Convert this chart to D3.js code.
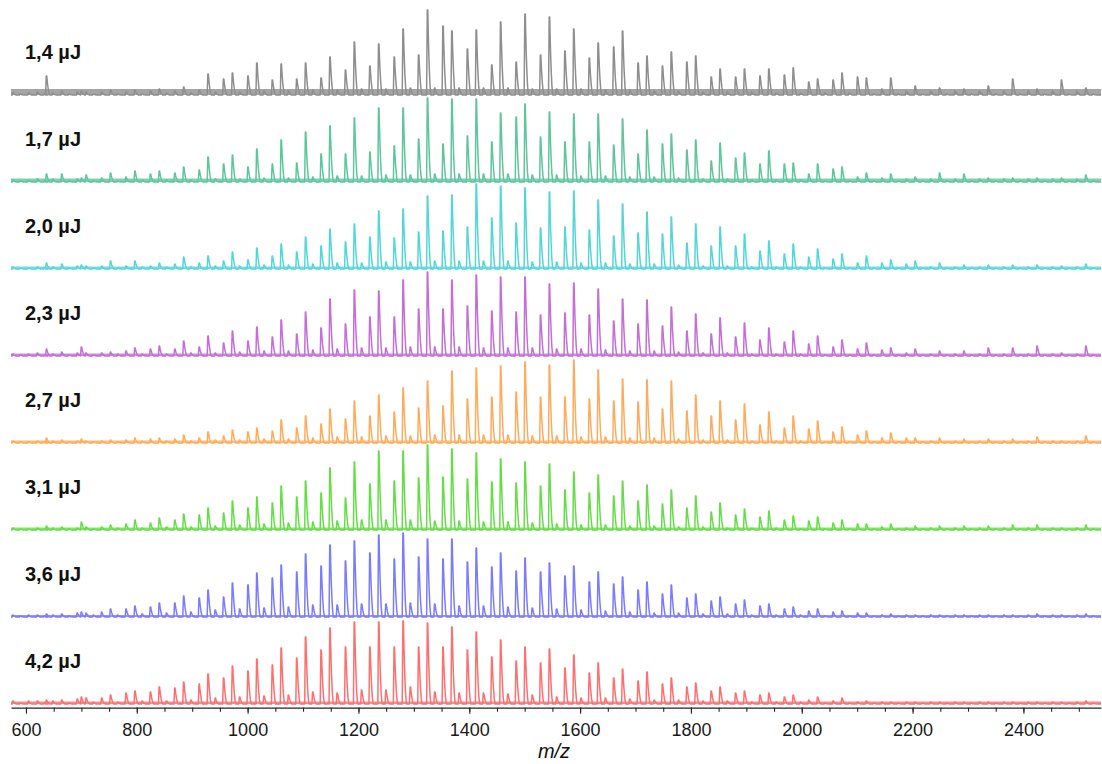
<!DOCTYPE html>
<html>
<head>
<meta charset="utf-8">
<script src="https://cdn.jsdelivr.net/npm/d3@7"></script>
<style>
body { margin: 0; background: #ffffff; }
text { font-family: "Liberation Sans", Arial, sans-serif; }
</style>
</head>
<body>
<script>
let width = 1102;
let height = 764;

// laser energies, one spectrum each (top to bottom)
let energies = ["1,4 µJ", "1,7 µJ", "2,0 µJ", "2,3 µJ", "2,7 µJ", "3,1 µJ", "3,6 µJ", "4,2 µJ"];
let colors = ["#8e8e8e", "#5ec59c", "#55d6d6", "#c46ed8", "#ffab5c", "#66dd48", "#7b7bff", "#ff6f6f"];

// m/z of the main oligomer series (44 Da repeat)
let mainMz = [576.6, 620.6, 664.6, 708.6, 752.6, 796.6, 840.6, 884.6, 928.6, 972.6,
  1016.6, 1060.6, 1104.6, 1148.6, 1192.6, 1236.6, 1280.6, 1324.6, 1368.6, 1412.6,
  1456.6, 1500.6, 1544.6, 1588.6, 1632.6, 1676.6, 1720.6, 1764.6, 1808.6, 1852.6,
  1896.6, 1940.6, 1984.6, 2028.6, 2072.6, 2116.6, 2160.6, 2204.6, 2248.6, 2292.6,
  2336.6, 2380.6, 2424.6, 2468.6, 2512.6];
// m/z of the second adduct series
let secMz = [604.6, 648.6, 692.6, 736.6, 780.6, 824.6, 868.6, 912.6, 956.6, 1000.6,
  1044.6, 1088.6, 1132.6, 1176.6, 1220.6, 1264.6, 1308.6, 1352.6, 1396.6, 1440.6,
  1484.6, 1528.6, 1572.6, 1616.6, 1660.6, 1704.6, 1748.6, 1792.6, 1836.6, 1880.6,
  1924.6, 1968.6, 2012.6, 2056.6, 2100.6, 2144.6, 2188.6, 2232.6, 2276.6, 2320.6,
  2364.6, 2408.6, 2452.6, 2496.6];
// m/z of the small third series
let thirdMz = [589.6, 633.6, 677.6, 721.6, 765.6, 809.6, 853.6, 897.6, 941.6, 985.6,
  1029.6, 1073.6, 1117.6, 1161.6, 1205.6, 1249.6, 1293.6, 1337.6, 1381.6, 1425.6,
  1469.6, 1513.6, 1557.6, 1601.6, 1645.6, 1689.6, 1733.6, 1777.6, 1821.6, 1865.6,
  1909.6, 1953.6, 1997.6, 2041.6, 2085.6, 2129.6, 2173.6, 2217.6, 2261.6, 2305.6,
  2349.6, 2393.6, 2437.6, 2481.6, 2525.6];
// low mass matrix peaks
let extraMz = [637, 700];

// intensities (a.u.) of main series
let e14Main = [2,3,4,3,5,5,6,8,21,22,32,31,32,38,53,51,66,85,64,65,73,81,78,66,52,64,39,43,39,26,26,26,27,16,22,17,17,9,7,6,9,16,6,15,7];
let e17Main = [2,3,8,7,9,11,11,15,25,27,33,42,50,56,64,74,74,84,83,83,69,78,70,68,68,63,52,48,42,39,29,31,19,18,15,9,8,5,9,8,4,4,4,4,7];
let e20Main = [2,2,5,3,8,8,6,12,13,17,21,25,32,40,45,58,60,73,74,85,83,81,77,78,69,65,57,52,45,42,35,28,25,20,15,13,9,8,6,4,4,4,4,3,5];
let e23Main = [2,3,4,3,4,8,10,15,20,25,29,36,44,57,66,65,76,84,76,81,79,79,72,73,67,57,56,49,42,38,33,28,25,20,16,13,8,7,5,5,8,8,10,3,10];
let e27Main = [2,2,3,2,3,5,5,8,11,13,15,23,27,34,42,48,55,62,72,75,77,81,78,83,73,64,63,62,48,42,39,31,27,22,16,12,10,5,5,4,4,4,6,2,7];
let e31Main = [2,2,3,3,5,10,12,16,22,29,33,44,49,62,68,79,79,85,81,77,71,68,66,58,55,49,45,40,34,27,21,19,14,13,10,6,6,4,4,4,4,5,5,2,5];
let e36Main = [2,2,3,4,8,11,14,21,27,34,44,52,63,72,76,82,84,78,78,69,64,59,54,51,45,40,35,32,23,20,17,13,10,8,6,4,3,2,2,2,2,2,3,2,3];
let e42Main = [3,3,4,6,9,13,17,22,30,38,45,56,67,76,82,82,83,81,77,72,64,57,55,49,41,35,32,26,21,17,13,11,9,7,6,3,2,2,2,2,2,2,2,2,3];

// intensities (a.u.) of second series
let e14Sec = [2,2,3,3,3,4,4,5,16,19,15,16,17,25,29,38,40,69,46,30,33,40,44,37,48,32,29,33,18,18,19,20,13,15,18,6,4,4,4,4,4,4,4,4];
let e17Sec = [2,3,3,4,5,8,9,12,18,15,18,19,28,28,30,36,43,38,46,40,65,45,40,40,37,28,38,32,21,24,18,18,8,13,5,4,3,3,3,3,3,3,3,3];
let e20Sec = [1,2,3,3,3,3,5,6,8,9,13,17,23,27,32,31,37,38,42,51,46,41,42,39,33,36,35,26,23,23,18,15,12,10,6,6,5,2,2,2,2,2,2,2];
let e23Sec = [2,2,3,3,5,7,7,9,13,15,19,22,28,32,39,39,47,47,50,45,44,41,43,41,35,32,30,25,22,19,16,14,12,9,7,6,3,2,2,2,2,2,2,2];
let e27Sec = [1,2,2,2,3,4,4,5,7,11,12,15,19,24,27,31,35,37,44,46,51,46,46,44,42,41,34,32,27,23,18,15,14,11,8,5,5,2,2,2,2,2,2,2];
let e31Sec = [1,2,2,3,6,7,10,15,17,22,27,33,37,32,46,49,52,53,51,48,47,44,40,37,34,29,26,22,18,15,13,10,9,7,6,3,2,2,2,2,2,2,2,2];
let e36Sec = [2,2,4,5,8,10,14,19,20,32,39,45,51,56,64,58,60,58,55,50,46,45,41,35,33,27,23,19,16,13,11,8,6,5,4,2,2,2,2,2,2,2,2,2];
let e42Sec = [3,3,5,6,11,12,16,20,26,33,39,46,54,57,57,57,57,57,54,47,43,41,36,31,26,23,20,17,13,11,9,7,4,3,2,2,2,2,2,2,2,2,2,2];

// intensities (a.u.) of third series
let e14Third = [1,1,1,1,1,1,2,2,3,3,4,4,5,5,6,6,7,7,7,7,7,6,6,6,5,5,4,4,3,3,3,2,2,2,2,1,1,1,1,1,1,1,1,1,1];
let e17Third = [1,1,1,1,1,2,2,2,3,3,4,4,5,6,6,7,7,8,8,8,8,7,7,6,6,5,5,4,3,3,2,2,2,1,1,1,1,1,1,1,1,1,1,1,1];
let e20Third = [1,1,1,1,1,2,2,2,3,3,4,4,5,6,6,7,7,8,8,8,8,7,7,6,6,5,5,4,3,3,2,2,2,1,1,1,1,1,1,1,1,1,1,1,1];
let e23Third = [1,1,1,1,2,2,2,3,3,4,5,5,6,7,8,8,9,9,9,8,8,8,7,7,6,5,5,4,3,3,2,2,2,1,1,1,1,1,1,1,1,1,1,1,1];
let e27Third = [1,1,1,1,1,2,2,2,3,3,4,4,5,6,6,7,7,8,8,8,8,7,7,6,6,5,5,4,3,3,2,2,2,1,1,1,1,1,1,1,1,1,1,1,1];
let e31Third = [1,1,1,1,2,2,3,3,4,5,6,7,8,9,10,10,10,9,9,8,8,7,6,5,5,4,4,3,3,2,2,2,1,1,1,1,1,1,1,1,1,1,1,1,1];
let e36Third = [1,1,1,2,2,3,4,5,7,8,9,10,12,12,13,13,14,13,11,11,10,9,8,7,6,5,4,4,3,3,2,2,2,1,1,1,1,1,1,1,1,1,1,1,1];
let e42Third = [1,1,1,2,2,3,3,4,6,7,8,9,12,11,14,14,17,12,11,11,10,9,7,6,6,5,4,4,3,3,2,2,2,1,1,1,1,1,1,1,1,1,1,1,1];

// matrix peaks (637, 700) per spectrum
let extraHeights = [[19,4],[8,4],[6,4],[7,9],[5,4],[4,8],[3,5],[4,7]];
// baseline noise level per spectrum
let noiseLevels = [6, 3.5, 2.5, 2.5, 2.5, 2.5, 2, 2.5];

let mainHeights = [e14Main, e17Main, e20Main, e23Main, e27Main, e31Main, e36Main, e42Main];
let secHeights = [e14Sec, e17Sec, e20Sec, e23Sec, e27Sec, e31Sec, e36Sec, e42Sec];
let thirdHeights = [e14Third, e17Third, e20Third, e23Third, e27Third, e31Third, e36Third, e42Third];

let majorTicks = [600, 800, 1000, 1200, 1400, 1600, 1800, 2000, 2200, 2400];
let minorTicks = d3.range(600, 2550, 50);

let mzMin = 573;
let mzMax = 2540;

let svg = d3.select("body").append("svg").attr("width", width).attr("height", height);

let x = d3.scaleLinear().domain([mzMin, mzMax]).range([11, 1101]);
let base = d3.scalePoint().domain(energies).range([95, 704]);
let y = d3.scaleLinear().domain([0, 85]).range([0, 85]);

// isotope envelope of one peak: [m/z offset, fraction of height]
let peakShape = [[-1.6, 0], [-0.4, 1], [0.5, 1], [1.3, 0.75], [2.3, 0.5], [3.3, 0.3], [4.5, 0.12], [6, 0]];

function spectrum(i) {
  let pk = [];
  mainMz.forEach((m, k) => pk.push([m, mainHeights[i][k]]));
  secMz.forEach((m, k) => pk.push([m, secHeights[i][k]]));
  thirdMz.forEach((m, k) => pk.push([m, thirdHeights[i][k]]));
  extraMz.forEach((m, k) => pk.push([m, extraHeights[i][k]]));
  pk.sort((a, b) => a[0] - b[0]);
  let pts = [[mzMin, 0]];
  pk.forEach(p => peakShape.forEach(s => pts.push([p[0] + s[0], p[1] * s[1]])));
  pts.push([mzMax, 0]);
  return pts.filter(d => d[0] >= mzMin && d[0] <= mzMax);
}

energies.forEach((e, i) => {
  let b = base(e);
  let g = svg.append("g");

  // noise band
  g.append("path")
    .datum([mzMin, mzMax])
    .attr("d", d3.area().x(d => x(d)).y0(b).y1(b - y(noiseLevels[i])))
    .attr("fill", colors[i])
    .attr("opacity", 0.8);

  g.append("path")
    .datum(spectrum(i))
    .attr("d", d3.line().x(d => x(d[0])).y(d => b - y(d[1])))
    .attr("fill", "none")
    .attr("stroke", colors[i])
    .attr("stroke-width", 1.5)
    .attr("stroke-linejoin", "round");

  g.append("text")
    .attr("x", 25)
    .attr("y", b - 36)
    .attr("font-size", 20)
    .attr("font-weight", "bold")
    .attr("fill", "#111")
    .text(e);
});

let axisY = 707.7;

svg.append("g")
  .attr("transform", `translate(0,${axisY})`)
  .call(d3.axisBottom(x).tickValues(minorTicks).tickSize(4).tickSizeOuter(0).tickFormat(""))
  .call(g => g.select(".domain").attr("stroke", "#222").attr("stroke-width", 1.2))
  .call(g => g.selectAll(".tick line").attr("stroke", "#222").attr("stroke-width", 1.1));

svg.append("g")
  .attr("transform", `translate(0,${axisY})`)
  .call(d3.axisBottom(x).tickValues(majorTicks).tickSize(6).tickPadding(10).tickSizeOuter(0).tickFormat(d3.format("d")))
  .call(g => g.select(".domain").remove())
  .call(g => g.selectAll(".tick line").attr("stroke", "#222").attr("stroke-width", 1.1))
  .call(g => g.selectAll(".tick text")
    .attr("font-size", 18)
    .attr("font-family", "'Liberation Sans', Arial, sans-serif")
    .attr("fill", "#1a1a1a"));

svg.append("text")
  .attr("x", 554)
  .attr("y", 758)
  .attr("text-anchor", "middle")
  .attr("font-size", 20)
  .attr("font-style", "italic")
  .attr("fill", "#111")
  .text("m/z");
</script>
</body>
</html>
